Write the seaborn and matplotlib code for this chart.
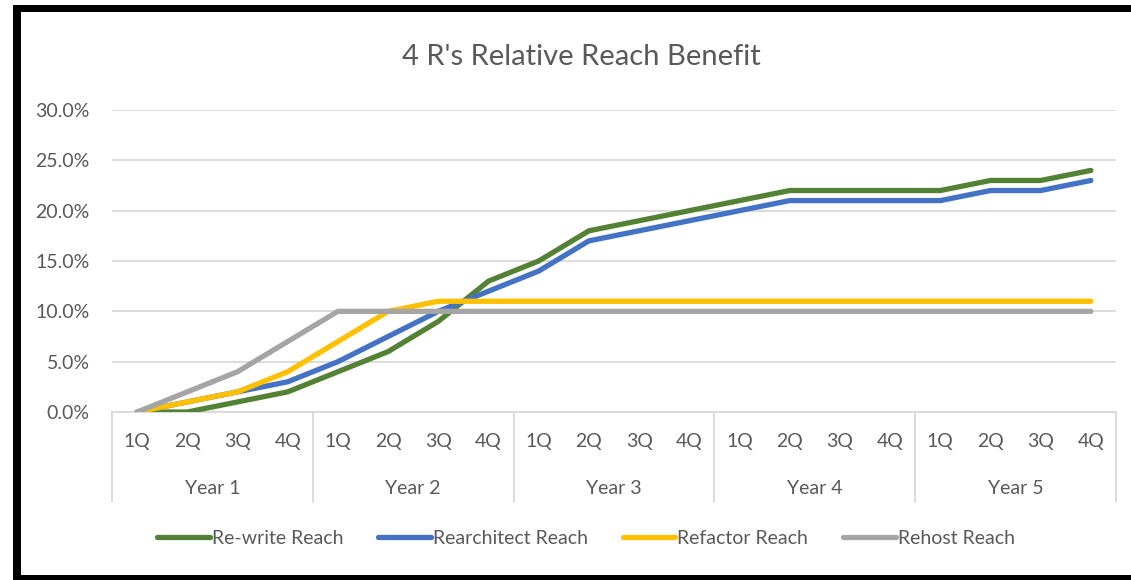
import matplotlib
matplotlib.use("Agg")
import matplotlib.pyplot as plt
import matplotlib.transforms as mtransforms
from matplotlib.patches import Rectangle
from matplotlib.ticker import FuncFormatter
import seaborn as sns
import pandas as pd

# ---- data ----
years = ["Year 1", "Year 2", "Year 3", "Year 4", "Year 5"]
quarters = ["1Q", "2Q", "3Q", "4Q"]
series_names = ["Re-write Reach", "Rearchitect Reach", "Refactor Reach", "Rehost Reach"]
rewrite = [0, 0, 1, 2, 4, 6, 9, 13, 15, 18, 19, 20, 21, 22, 22, 22, 22, 23, 23, 24]
rearchitect = [0, 1, 2, 3, 5, 7.5, 10, 12, 14, 17, 18, 19, 20, 21, 21, 21, 21, 22, 22, 23]
refactor = [0, 1, 2, 4, 7, 10, 11, 11, 11, 11, 11, 11, 11, 11, 11, 11, 11, 11, 11, 11]
rehost = [0, 2, 4, 7, 10, 10, 10, 10, 10, 10, 10, 10, 10, 10, 10, 10, 10, 10, 10, 10]
colors = ["#548235", "#4472C4", "#FFC000", "#A5A5A5"]
title = "4 R's Relative Reach Benefit"

sns.set_theme(style="white")
plt.rcParams["font.family"] = ["Lato", "DejaVu Sans"]

n = len(years) * len(quarters)
rows = []
for name, vals in zip(series_names, [rewrite, rearchitect, refactor, rehost]):
    for i, v in enumerate(vals):
        rows.append({"idx": i, "value": v / 100.0, "series": name})
df = pd.DataFrame(rows)

W, H = 1131, 580
fig = plt.figure(figsize=(W / 100, H / 100), dpi=100)
fig.patch.set_facecolor("white")

# black frame
def px_rect(x0, y0, x1, y1, color, z):
    fig.patches.append(Rectangle((x0 / W, 1 - y1 / H), (x1 - x0) / W, (y1 - y0) / H,
                                 transform=fig.transFigure, facecolor=color,
                                 edgecolor="none", zorder=z))
px_rect(13, 5, 1200, 600, "black", -20)
px_rect(21, 12, 1200, 575, "white", -19)

left, right, top, bottom = 112, 1116, 110, 412
ax = fig.add_axes([left / W, 1 - bottom / H, (right - left) / W, (bottom - top) / H])
ax.set_facecolor("none")

sns.lineplot(data=df, x="idx", y="value", hue="series", palette=colors,
             hue_order=series_names, linewidth=3.8, ax=ax, legend=True,
             solid_capstyle="round", solid_joinstyle="round", zorder=3)

FS = 14
ax.set_xlim(-0.5, n - 0.5)
ax.set_ylim(0, 0.30)
ax.set_yticks([0, 0.05, 0.10, 0.15, 0.20, 0.25, 0.30])
ax.yaxis.set_major_formatter(FuncFormatter(lambda v, p: f"{v*100:.1f}%"))
ax.tick_params(axis="y", length=0, pad=16, labelsize=FS, labelcolor="#595959")
ax.set_xticks([])
ax.set_xlabel("")
ax.set_ylabel("")
ax.grid(axis="y", color="#D9D9D9", linewidth=1.3, zorder=0)
for s in ["top", "right", "left"]:
    ax.spines[s].set_visible(False)
ax.spines["bottom"].set_color("#D9D9D9")
ax.spines["bottom"].set_linewidth(1.3)

trans = mtransforms.blended_transform_factory(ax.transData, ax.transAxes)
axh = bottom - top
for i in range(n):
    ax.text(i, -29 / axh, quarters[i % 4], transform=trans, ha="center", va="center",
            fontsize=FS, color="#595959")
for j, y in enumerate(years):
    ax.text(j * 4 + 1.5, -77 / axh, y, transform=trans, ha="center", va="center",
            fontsize=FS, color="#595959")
for j in range(len(years) + 1):
    ax.plot([j * 4 - 0.5, j * 4 - 0.5], [0, -90 / axh], transform=trans, color="#D9D9D9",
            linewidth=1.3, clip_on=False)

fig.text(581 / W, 1 - 57 / H, title, ha="center", va="center", fontsize=21, color="#595959")

handles, labels = ax.get_legend_handles_labels()
ax.legend_.remove()
leg = fig.legend(handles, labels, loc="center", bbox_to_anchor=(586 / W, 1 - 538 / H),
                 ncol=4, frameon=False, fontsize=FS, handlelength=2.7,
                 handletextpad=0.1, columnspacing=1.8)
for t in leg.get_texts():
    t.set_color("#595959")
for l in leg.get_lines():
    l.set_linewidth(3.8)

fig.savefig("out.png", dpi=100)
